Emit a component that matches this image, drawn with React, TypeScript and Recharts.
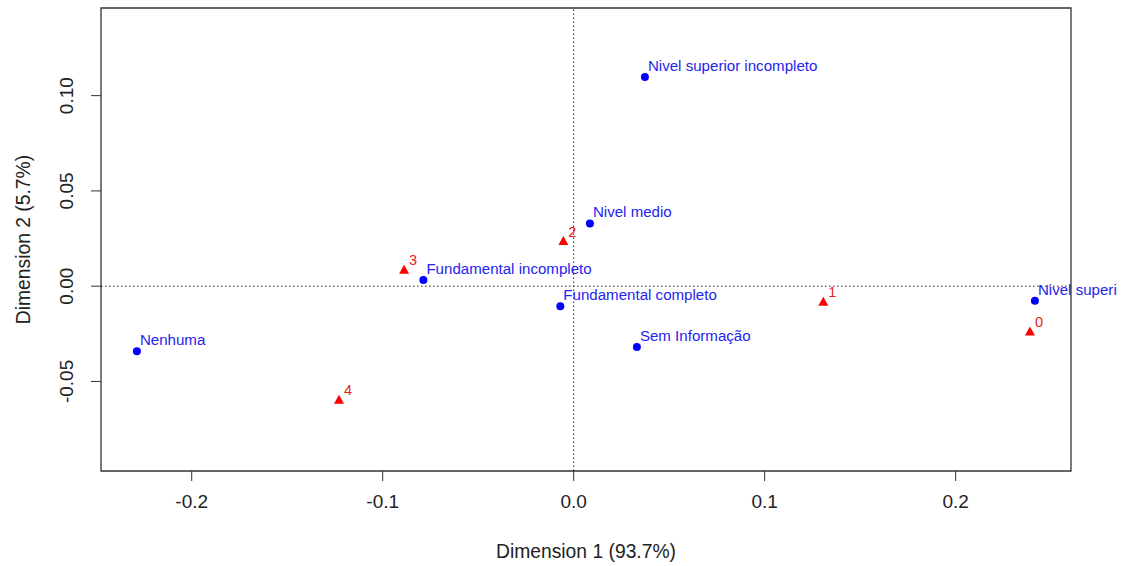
import {
  Label,
  ReferenceArea,
  ReferenceLine,
  Scatter,
  ScatterChart,
  XAxis,
  YAxis,
} from "recharts";

// row categories (education level)
const rowLabels = [
  "Nenhuma",
  "Fundamental incompleto",
  "Fundamental completo",
  "Nivel medio",
  "Nivel superior incompleto",
  "Nivel superi",
  "Sem Informação",
];
const rowDim1 = [-0.2287, -0.0787, -0.007, 0.0085, 0.0373, 0.2415, 0.0331];
const rowDim2 = [-0.0341, 0.0032, -0.0105, 0.0329, 0.1098, -0.0077, -0.0319];

// column categories
const colLabels = ["0", "1", "2", "3", "4"];
const colDim1 = [0.2389, 0.1307, -0.0054, -0.0888, -0.1229];
const colDim2 = [-0.024, -0.0084, 0.0234, 0.0084, -0.0599];

const xTicks = [-0.2, -0.1, 0, 0.1, 0.2];
const yTicks = [-0.05, 0, 0.05, 0.1];
const xDomain = [-0.2475, 0.2604];
const yDomain = [-0.097, 0.146];

const rowData = rowLabels.map((label, i) => ({
  label,
  x: rowDim1[i],
  y: rowDim2[i],
}));

const colData = colLabels.map((label, i) => ({
  label,
  x: colDim1[i],
  y: colDim2[i],
}));

const FONT = "'Liberation Sans', Arial, sans-serif";

function RowPoint(props: any) {
  const { cx, cy, payload } = props;
  return (
    <g>
      <circle cx={cx} cy={cy} r={4} fill="#0000ff" />
      <text
        x={cx + 3}
        y={cy - 6}
        fill="#2424f0"
        fontSize={15.1}
        fontFamily={FONT}
      >
        {payload.label}
      </text>
    </g>
  );
}

function ColPoint(props: any) {
  const { cx, cy, payload } = props;
  return (
    <g>
      <path
        d={`M${cx},${cy - 5.5} L${cx - 5},${cy + 3.5} L${cx + 5},${cy + 3.5} Z`}
        fill="#ff0000"
      />
      <text
        x={cx + 5}
        y={cy - 5}
        fill="#e82020"
        fontSize={14.5}
        fontFamily={FONT}
      >
        {payload.label}
      </text>
    </g>
  );
}

function YTick(props: any) {
  const { x, y, payload } = props;
  return (
    <text
      x={x}
      y={y}
      transform={`rotate(-90, ${x}, ${y})`}
      textAnchor="middle"
      fill="#222"
      fontSize={19}
      fontFamily={FONT}
    >
      {payload.value.toFixed(2)}
    </text>
  );
}

export default function App() {
  return (
    <div
      style={{
        position: "absolute",
        left: 0,
        top: 0,
        width: 1122,
        height: 566,
        background: "#ffffff",
      }}
    >
      <ScatterChart
        width={1122}
        height={566}
        margin={{ top: 8, right: 51, bottom: 0, left: 0 }}
      >
        <XAxis
          type="number"
          dataKey="x"
          domain={xDomain}
          ticks={xTicks}
          height={95}
          axisLine={false}
          tickSize={10}
          tickMargin={14}
          tickLine={{ stroke: "#333" }}
          tickFormatter={(v: number) => v.toFixed(1)}
          tick={{ fill: "#222", fontSize: 19, fontFamily: FONT }}
        >
          <Label
            content={() => (
              <text
                x={586}
                y={558}
                textAnchor="middle"
                fill="#222"
                fontSize={19.3}
                fontFamily={FONT}
              >
                Dimension 1 (93.7%)
              </text>
            )}
          />
        </XAxis>
        <YAxis
          type="number"
          dataKey="y"
          domain={yDomain}
          ticks={yTicks}
          width={101}
          axisLine={false}
          tickSize={10}
          tickMargin={18}
          tickLine={{ stroke: "#333" }}
          tick={<YTick />}
        >
          <Label
            content={() => (
              <text
                x={30}
                y={239.5}
                transform="rotate(-90, 30, 239.5)"
                textAnchor="middle"
                fill="#222"
                fontSize={19.3}
                fontFamily={FONT}
              >
                Dimension 2 (5.7%)
              </text>
            )}
          />
        </YAxis>
        <ReferenceArea
          x1={xDomain[0]}
          x2={xDomain[1]}
          y1={yDomain[0]}
          y2={yDomain[1]}
          fill="none"
          fillOpacity={0}
          stroke="#333"
          strokeWidth={1.3}
          ifOverflow="visible"
        />
        <ReferenceLine
          x={0}
          stroke="#222"
          strokeDasharray="1.5 2.5"
        />
        <ReferenceLine
          y={0}
          stroke="#222"
          strokeDasharray="1.5 2.5"
        />
        <Scatter
          data={colData}
          shape={<ColPoint />}
          isAnimationActive={false}
        />
        <Scatter
          data={rowData}
          shape={<RowPoint />}
          isAnimationActive={false}
        />
      </ScatterChart>
    </div>
  );
}
